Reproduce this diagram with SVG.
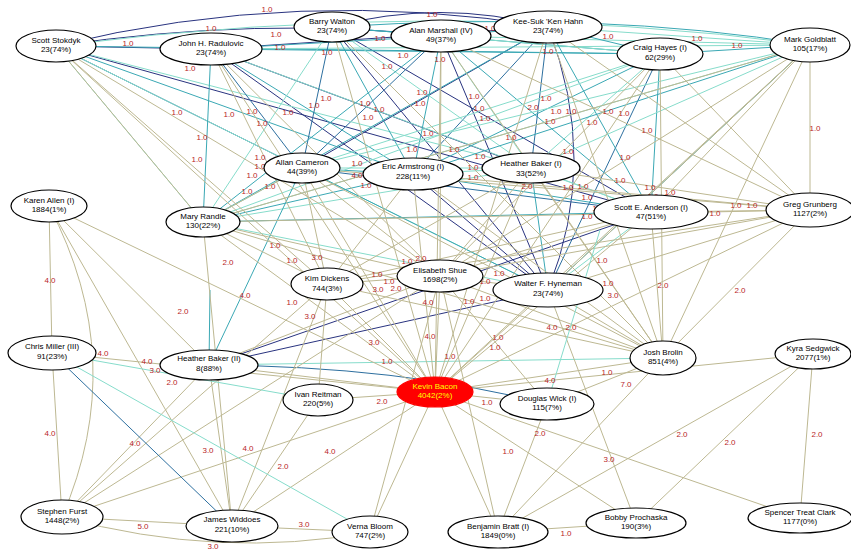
<svg xmlns="http://www.w3.org/2000/svg" width="851" height="550" viewBox="0 0 851 550">
<style>
.n{stroke:#29337f}.b{stroke:#2d6f9f}.t{stroke:#3aa8b4}.a{stroke:#86dccb}.k{stroke:#bdb892}
#edges line,#edges path{fill:none;stroke-width:1}
.node ellipse{fill:#fff;stroke:#000;stroke-width:1.2}
.node text{font-family:"Liberation Sans",Arial,sans-serif;font-size:8px;text-anchor:middle;fill:#000}
#labels text{font-family:"Liberation Sans",Arial,sans-serif;font-size:8px;text-anchor:middle;fill:#b8262a}
</style>
<rect width="851" height="550" fill="#fff"/>
<g id="edges">
<path class="n" d="M56,46 Q300,-14 548,27"/>
<path class="n" d="M56,46 Q260,16 441,36"/>
<line class="n" x1="56" y1="46" x2="211" y2="49"/>
<path class="n" d="M332,27 Q440,-2 548,27"/>
<line class="n" x1="211" y1="49" x2="548" y2="27"/>
<line class="n" x1="211" y1="49" x2="531" y2="168"/>
<line class="n" x1="211" y1="49" x2="548" y2="290"/>
<line class="n" x1="441" y1="36" x2="548" y2="290"/>
<path class="n" d="M548,27 Q600,160 548,290"/>
<line class="n" x1="209" y1="365" x2="548" y2="290"/>
<path class="b" d="M209,365 Q400,366 547,404"/>
<line class="n" x1="56" y1="46" x2="651" y2="212"/>
<line class="b" x1="302" y1="168" x2="651" y2="212"/>
<line class="n" x1="332" y1="27" x2="651" y2="212"/>
<line class="n" x1="413" y1="174" x2="548" y2="290"/>
<line class="b" x1="441" y1="36" x2="302" y2="168"/>
<line class="n" x1="548" y1="27" x2="302" y2="168"/>
<line class="n" x1="332" y1="27" x2="548" y2="290"/>
<line class="b" x1="56" y1="46" x2="302" y2="168"/>
<line class="n" x1="209" y1="365" x2="651" y2="212"/>
<line class="b" x1="548" y1="27" x2="413" y2="174"/>
<line class="b" x1="660" y1="54" x2="548" y2="290"/>
<path class="a" d="M56,46 Q450,-4 810,45"/>
<path class="t" d="M332,27 Q600,10 810,45"/>
<line class="t" x1="56" y1="46" x2="413" y2="174"/>
<line class="a" x1="56" y1="46" x2="531" y2="168"/>
<line class="t" x1="56" y1="46" x2="660" y2="54"/>
<line class="a" x1="56" y1="46" x2="548" y2="290"/>
<line class="t" x1="211" y1="49" x2="441" y2="36"/>
<line class="t" x1="211" y1="49" x2="660" y2="54"/>
<line class="a" x1="211" y1="49" x2="810" y2="45"/>
<line class="b" x1="211" y1="49" x2="302" y2="168"/>
<line class="t" x1="211" y1="49" x2="413" y2="174"/>
<line class="a" x1="211" y1="49" x2="651" y2="212"/>
<line class="t" x1="332" y1="27" x2="441" y2="36"/>
<line class="b" x1="332" y1="27" x2="302" y2="168"/>
<line class="t" x1="332" y1="27" x2="413" y2="174"/>
<line class="a" x1="332" y1="27" x2="531" y2="168"/>
<line class="t" x1="332" y1="27" x2="660" y2="54"/>
<line class="t" x1="441" y1="36" x2="548" y2="27"/>
<line class="a" x1="441" y1="36" x2="660" y2="54"/>
<line class="t" x1="441" y1="36" x2="413" y2="174"/>
<line class="a" x1="441" y1="36" x2="531" y2="168"/>
<line class="t" x1="441" y1="36" x2="651" y2="212"/>
<line class="a" x1="441" y1="36" x2="810" y2="45"/>
<line class="t" x1="548" y1="27" x2="660" y2="54"/>
<line class="a" x1="548" y1="27" x2="810" y2="45"/>
<line class="b" x1="548" y1="27" x2="531" y2="168"/>
<line class="t" x1="548" y1="27" x2="651" y2="212"/>
<line class="t" x1="660" y1="54" x2="810" y2="45"/>
<line class="a" x1="660" y1="54" x2="302" y2="168"/>
<line class="t" x1="660" y1="54" x2="413" y2="174"/>
<line class="a" x1="660" y1="54" x2="531" y2="168"/>
<line class="t" x1="660" y1="54" x2="651" y2="212"/>
<line class="a" x1="810" y1="45" x2="302" y2="168"/>
<line class="t" x1="810" y1="45" x2="413" y2="174"/>
<line class="a" x1="810" y1="45" x2="531" y2="168"/>
<line class="t" x1="810" y1="45" x2="548" y2="290"/>
<line class="t" x1="302" y1="168" x2="413" y2="174"/>
<line class="a" x1="302" y1="168" x2="531" y2="168"/>
<line class="t" x1="302" y1="168" x2="548" y2="290"/>
<line class="a" x1="413" y1="174" x2="531" y2="168"/>
<line class="t" x1="413" y1="174" x2="651" y2="212"/>
<line class="a" x1="531" y1="168" x2="651" y2="212"/>
<line class="t" x1="531" y1="168" x2="548" y2="290"/>
<line class="a" x1="651" y1="212" x2="548" y2="290"/>
<line class="a" x1="203" y1="222" x2="56" y2="46"/>
<line class="t" x1="203" y1="222" x2="211" y2="49"/>
<line class="a" x1="203" y1="222" x2="332" y2="27"/>
<line class="t" x1="203" y1="222" x2="548" y2="27"/>
<line class="a" x1="203" y1="222" x2="660" y2="54"/>
<line class="t" x1="203" y1="222" x2="441" y2="36"/>
<line class="a" x1="203" y1="222" x2="302" y2="168"/>
<line class="t" x1="203" y1="222" x2="413" y2="174"/>
<line class="a" x1="203" y1="222" x2="531" y2="168"/>
<line class="t" x1="203" y1="222" x2="651" y2="212"/>
<line class="a" x1="203" y1="222" x2="548" y2="290"/>
<line class="a" x1="203" y1="222" x2="810" y2="45"/>
<line class="t" x1="209" y1="365" x2="210" y2="290"/>
<line class="t" x1="209" y1="365" x2="302" y2="168"/>
<line class="a" x1="209" y1="365" x2="663" y2="358"/>
<line class="k" x1="435" y1="392" x2="56" y2="46"/>
<line class="k" x1="435" y1="392" x2="211" y2="49"/>
<line class="k" x1="435" y1="392" x2="332" y2="27"/>
<line class="k" x1="435" y1="392" x2="441" y2="36"/>
<line class="k" x1="435" y1="392" x2="548" y2="27"/>
<line class="k" x1="435" y1="392" x2="660" y2="54"/>
<line class="k" x1="435" y1="392" x2="810" y2="45"/>
<line class="k" x1="435" y1="392" x2="302" y2="168"/>
<line class="k" x1="435" y1="392" x2="413" y2="174"/>
<line class="k" x1="435" y1="392" x2="531" y2="168"/>
<line class="k" x1="435" y1="392" x2="651" y2="212"/>
<line class="k" x1="435" y1="392" x2="810" y2="210"/>
<line class="k" x1="435" y1="392" x2="203" y2="222"/>
<line class="k" x1="435" y1="392" x2="49" y2="206"/>
<line class="k" x1="435" y1="392" x2="52" y2="353"/>
<line class="k" x1="435" y1="392" x2="209" y2="365"/>
<line class="k" x1="435" y1="392" x2="327" y2="284"/>
<line class="k" x1="435" y1="392" x2="440" y2="276"/>
<line class="k" x1="435" y1="392" x2="548" y2="290"/>
<line class="k" x1="435" y1="392" x2="663" y2="358"/>
<line class="k" x1="435" y1="392" x2="547" y2="404"/>
<line class="k" x1="435" y1="392" x2="318" y2="400"/>
<line class="k" x1="435" y1="392" x2="370" y2="532"/>
<line class="k" x1="435" y1="392" x2="232" y2="526"/>
<line class="k" x1="435" y1="392" x2="62" y2="517"/>
<line class="k" x1="435" y1="392" x2="498" y2="532"/>
<line class="k" x1="435" y1="392" x2="636" y2="523"/>
<line class="k" x1="435" y1="392" x2="800" y2="518"/>
<line class="k" x1="435" y1="392" x2="813" y2="354"/>
<line class="k" x1="440" y1="276" x2="56" y2="46"/>
<line class="k" x1="440" y1="276" x2="211" y2="49"/>
<line class="k" x1="440" y1="276" x2="441" y2="36"/>
<line class="k" x1="440" y1="276" x2="302" y2="168"/>
<line class="k" x1="440" y1="276" x2="531" y2="168"/>
<line class="k" x1="440" y1="276" x2="660" y2="54"/>
<line class="k" x1="440" y1="276" x2="810" y2="45"/>
<line class="k" x1="440" y1="276" x2="651" y2="212"/>
<line class="k" x1="440" y1="276" x2="810" y2="210"/>
<line class="k" x1="440" y1="276" x2="327" y2="284"/>
<line class="k" x1="440" y1="276" x2="548" y2="290"/>
<line class="k" x1="440" y1="276" x2="663" y2="358"/>
<line class="k" x1="440" y1="276" x2="203" y2="222"/>
<line class="k" x1="440" y1="276" x2="209" y2="365"/>
<line class="k" x1="440" y1="276" x2="62" y2="517"/>
<line class="k" x1="440" y1="276" x2="498" y2="532"/>
<line class="k" x1="440" y1="276" x2="547" y2="404"/>
<line class="k" x1="327" y1="284" x2="302" y2="168"/>
<line class="k" x1="327" y1="284" x2="413" y2="174"/>
<line class="k" x1="327" y1="284" x2="211" y2="49"/>
<line class="k" x1="327" y1="284" x2="203" y2="222"/>
<line class="k" x1="327" y1="284" x2="663" y2="358"/>
<line class="k" x1="327" y1="284" x2="810" y2="210"/>
<line class="k" x1="327" y1="284" x2="531" y2="168"/>
<line class="k" x1="327" y1="284" x2="56" y2="46"/>
<line class="k" x1="327" y1="284" x2="318" y2="400"/>
<line class="k" x1="327" y1="284" x2="651" y2="212"/>
<line class="k" x1="663" y1="358" x2="810" y2="45"/>
<line class="k" x1="663" y1="358" x2="660" y2="54"/>
<line class="k" x1="663" y1="358" x2="810" y2="210"/>
<line class="k" x1="663" y1="358" x2="651" y2="212"/>
<line class="k" x1="663" y1="358" x2="531" y2="168"/>
<line class="k" x1="663" y1="358" x2="441" y2="36"/>
<line class="k" x1="663" y1="358" x2="548" y2="27"/>
<line class="k" x1="663" y1="358" x2="413" y2="174"/>
<line class="k" x1="663" y1="358" x2="302" y2="168"/>
<line class="k" x1="663" y1="358" x2="203" y2="222"/>
<line class="k" x1="663" y1="358" x2="547" y2="404"/>
<line class="k" x1="663" y1="358" x2="332" y2="27"/>
<line class="k" x1="663" y1="358" x2="548" y2="290"/>
<line class="k" x1="810" y1="210" x2="810" y2="45"/>
<line class="k" x1="810" y1="210" x2="660" y2="54"/>
<line class="k" x1="810" y1="210" x2="441" y2="36"/>
<line class="k" x1="810" y1="210" x2="302" y2="168"/>
<line class="k" x1="810" y1="210" x2="413" y2="174"/>
<line class="k" x1="810" y1="210" x2="531" y2="168"/>
<line class="k" x1="810" y1="210" x2="651" y2="212"/>
<line class="k" x1="810" y1="210" x2="548" y2="290"/>
<line class="k" x1="810" y1="210" x2="203" y2="222"/>
<line class="k" x1="810" y1="210" x2="548" y2="27"/>
<line class="k" x1="810" y1="45" x2="651" y2="212"/>
<line class="k" x1="810" y1="45" x2="548" y2="290"/>
<line class="k" x1="810" y1="45" x2="203" y2="222"/>
<line class="k" x1="49" y1="206" x2="52" y2="353"/>
<path class="k" d="M49,206 Q130,360 62,517"/>
<line class="k" x1="49" y1="206" x2="209" y2="365"/>
<line class="k" x1="49" y1="206" x2="232" y2="526"/>
<line class="k" x1="52" y1="353" x2="62" y2="517"/>
<line class="k" x1="62" y1="517" x2="232" y2="526"/>
<line class="k" x1="232" y1="526" x2="370" y2="532"/>
<path class="k" d="M62,517 Q220,560 370,532"/>
<line class="k" x1="498" y1="532" x2="636" y2="523"/>
<line class="k" x1="813" y1="354" x2="498" y2="532"/>
<line class="k" x1="813" y1="354" x2="636" y2="523"/>
<line class="k" x1="813" y1="354" x2="800" y2="518"/>
<line class="k" x1="62" y1="517" x2="209" y2="365"/>
<line class="k" x1="62" y1="517" x2="327" y2="284"/>
<line class="k" x1="232" y1="526" x2="209" y2="365"/>
<line class="k" x1="232" y1="526" x2="318" y2="400"/>
<line class="k" x1="232" y1="526" x2="203" y2="222"/>
<line class="k" x1="232" y1="526" x2="327" y2="284"/>
<line class="k" x1="370" y1="532" x2="440" y2="276"/>
<line class="k" x1="498" y1="532" x2="663" y2="358"/>
<line class="k" x1="636" y1="523" x2="548" y2="290"/>
<line class="k" x1="547" y1="404" x2="498" y2="532"/>
<line class="k" x1="203" y1="222" x2="56" y2="46"/>
<line class="k" x1="203" y1="222" x2="302" y2="168"/>
<line class="a" x1="52" y1="353" x2="318" y2="400"/>
<line class="a" x1="52" y1="353" x2="370" y2="532"/>
<line class="b" x1="52" y1="353" x2="232" y2="526"/>
<line class="a" x1="547" y1="404" x2="600" y2="230"/>
</g>
<g id="labels">
<text x="267" y="12">1.0</text><text x="211" y="31">1.0</text><text x="128" y="46">1.0</text><text x="276" y="37">1.0</text><text x="280" y="50">1.0</text><text x="190" y="71">1.0</text><text x="432" y="17">1.0</text><text x="490" y="31">1.0</text><text x="380" y="41">1.0</text><text x="327" y="55">1.0</text><text x="440" y="62">1.0</text><text x="403" y="58">1.0</text><text x="548" y="54">1.0</text><text x="608" y="39">1.0</text><text x="697" y="41">1.0</text><text x="737" y="48">1.0</text>
<text x="177" y="115">1.0</text><text x="229" y="117">1.0</text><text x="252" y="114">1.0</text><text x="262" y="126">1.0</text><text x="288" y="115">1.0</text><text x="314" y="108">1.0</text><text x="326" y="101">1.0</text><text x="202" y="140">1.0</text><text x="197" y="162">1.0</text><text x="260" y="160">1.0</text><text x="365" y="106">1.0</text><text x="379" y="112">1.0</text><text x="368" y="120">1.0</text><text x="387" y="69">1.0</text><text x="422" y="95">1.0</text><text x="420" y="106">1.0</text><text x="428" y="136">1.0</text><text x="412" y="152">1.0</text><text x="454" y="152">1.0</text><text x="474" y="99">1.0</text><text x="479" y="111">1.0</text><text x="485" y="121">1.0</text><text x="511" y="140">1.0</text><text x="480" y="159">1.0</text><text x="533" y="110">2.0</text><text x="546" y="101">1.0</text><text x="550" y="124">1.0</text><text x="556" y="114">1.0</text><text x="571" y="114">1.0</text><text x="592" y="125">1.0</text><text x="568" y="154">1.0</text>
<text x="608" y="114">1.0</text><text x="624" y="116">1.0</text><text x="647" y="133">1.0</text><text x="625" y="160">1.0</text><text x="620" y="183">1.0</text>
<text x="260" y="169">1.0</text><text x="252" y="178">1.0</text><text x="270" y="189">1.0</text><text x="357" y="166">1.0</text><text x="357" y="178">4.0</text><text x="366" y="188">1.0</text><text x="473" y="170">1.0</text><text x="473" y="180">1.0</text><text x="527" y="189">2.0</text><text x="568" y="190">1.0</text><text x="583" y="189">1.0</text>
<text x="650" y="190">1.0</text><text x="587" y="200">1.0</text><text x="653" y="199">1.0</text><text x="670" y="195">1.0</text><text x="598" y="211">1.0</text><text x="587" y="219">1.0</text><text x="715" y="216">1.0</text><text x="736" y="208">1.0</text><text x="752" y="208">1.0</text><text x="247" y="194">1.0</text>
<text x="292" y="263">1.0</text><text x="317" y="260">3.0</text><text x="407" y="264">1.0</text><text x="421" y="261">2.0</text><text x="377" y="277">1.0</text><text x="389" y="284">1.0</text><text x="357" y="291">1.0</text><text x="378" y="292">3.0</text><text x="396" y="291">2.0</text><text x="499" y="276">1.0</text><text x="485" y="284">1.0</text><text x="499" y="293">1.0</text><text x="485" y="301">1.0</text><text x="469" y="304">1.0</text><text x="428" y="305">4.0</text><text x="602" y="263">1.0</text><text x="608" y="286">1.0</text><text x="613" y="298">3.0</text><text x="292" y="305">1.0</text>
<text x="103" y="356">4.0</text><text x="147" y="364">4.0</text><text x="155" y="373">3.0</text><text x="172" y="385">2.0</text>
<text x="430" y="339">4.0</text><text x="498" y="340">1.0</text><text x="495" y="350">1.0</text><text x="450" y="359">1.0</text><text x="387" y="364">1.0</text><text x="607" y="375">1.0</text><text x="550" y="383">4.0</text><text x="626" y="387">7.0</text><text x="487" y="405">1.0</text><text x="382" y="404">2.0</text>
<text x="143" y="529">5.0</text><text x="304" y="527">3.0</text><text x="213" y="549">3.0</text><text x="566" y="536">1.0</text>
<text x="50" y="283">4.0</text><text x="183" y="314">2.0</text><text x="245" y="298">4.0</text><text x="50" y="436">4.0</text><text x="135" y="446">4.0</text><text x="208" y="453">3.0</text><text x="248" y="451">4.0</text><text x="283" y="469">2.0</text><text x="330" y="454">4.0</text><text x="310" y="319">3.0</text><text x="374" y="345">3.0</text><text x="508" y="454">1.0</text><text x="540" y="436">2.0</text><text x="609" y="462">3.0</text><text x="682" y="437">2.0</text><text x="730" y="445">2.0</text><text x="817" y="437">2.0</text><text x="815" y="131">1.0</text><text x="740" y="293">2.0</text><text x="663" y="288">2.0</text><text x="228" y="265">2.0</text><text x="275" y="248">1.0</text><text x="552" y="330">4.0</text><text x="571" y="330">2.0</text>
</g>
<g id="n-ss" class="node"><ellipse cx="56" cy="46" rx="40" ry="16"/><text x="56" y="43">Scott Stokdyk</text><text x="56" y="52">23(74%)</text></g>
<g id="n-jr" class="node"><ellipse cx="211" cy="49" rx="51" ry="16"/><text x="211" y="46">John H. Radulovic</text><text x="211" y="55">23(74%)</text></g>
<g id="n-bw" class="node"><ellipse cx="332" cy="27" rx="38" ry="15"/><text x="332" y="24">Barry Walton</text><text x="332" y="33">23(74%)</text></g>
<g id="n-am" class="node"><ellipse cx="441" cy="36" rx="50" ry="16"/><text x="441" y="33">Alan Marshall (IV)</text><text x="441" y="42">49(37%)</text></g>
<g id="n-kh" class="node"><ellipse cx="548" cy="27" rx="54" ry="16"/><text x="548" y="24">Kee-Suk 'Ken Hahn</text><text x="548" y="33">23(74%)</text></g>
<g id="n-ch" class="node"><ellipse cx="660" cy="54" rx="43" ry="16"/><text x="660" y="50">Craig Hayes (I)</text><text x="660" y="60">62(29%)</text></g>
<g id="n-mg" class="node"><ellipse cx="810" cy="45" rx="40" ry="17"/><text x="810" y="42">Mark Goldblatt</text><text x="810" y="51">105(17%)</text></g>
<g id="n-ac" class="node"><ellipse cx="302" cy="168" rx="38" ry="15"/><text x="302" y="165">Allan Cameron</text><text x="302" y="174">44(39%)</text></g>
<g id="n-ea" class="node"><ellipse cx="413" cy="174" rx="50" ry="16"/><text x="413" y="169">Eric Armstrong (I)</text><text x="413" y="179">228(11%)</text></g>
<g id="n-hb1" class="node"><ellipse cx="531" cy="168" rx="49" ry="15"/><text x="531" y="166">Heather Baker (I)</text><text x="531" y="176">33(52%)</text></g>
<g id="n-sa" class="node"><ellipse cx="651" cy="212" rx="57" ry="17"/><text x="651" y="210">Scott E. Anderson (I)</text><text x="651" y="219">47(51%)</text></g>
<g id="n-gg" class="node"><ellipse cx="810" cy="210" rx="44" ry="17"/><text x="810" y="207">Greg Grunberg</text><text x="810" y="216">1127(2%)</text></g>
<g id="n-ka" class="node"><ellipse cx="49" cy="206" rx="38" ry="16"/><text x="49" y="203">Karen Allen (I)</text><text x="49" y="212">1884(1%)</text></g>
<g id="n-mr" class="node"><ellipse cx="203" cy="222" rx="37" ry="15"/><text x="203" y="219">Mary Randle</text><text x="203" y="228">130(22%)</text></g>
<g id="n-kd" class="node"><ellipse cx="327" cy="284" rx="36" ry="16"/><text x="327" y="281">Kim Dickens</text><text x="327" y="291">744(3%)</text></g>
<g id="n-es" class="node"><ellipse cx="440" cy="276" rx="43" ry="16"/><text x="440" y="273">Elisabeth Shue</text><text x="440" y="282">1698(2%)</text></g>
<g id="n-wh" class="node"><ellipse cx="548" cy="290" rx="55" ry="17"/><text x="548" y="286">Walter F. Hyneman</text><text x="548" y="296">23(74%)</text></g>
<g id="n-cm" class="node"><ellipse cx="52" cy="353" rx="44" ry="17"/><text x="52" y="349">Chris Miller (III)</text><text x="52" y="359">91(23%)</text></g>
<g id="n-hb2" class="node"><ellipse cx="209" cy="365" rx="49" ry="15"/><text x="209" y="361">Heather Baker (II)</text><text x="209" y="371">8(88%)</text></g>
<g id="n-ir" class="node"><ellipse cx="318" cy="400" rx="35" ry="16"/><text x="318" y="397">Ivan Reitman</text><text x="318" y="406">220(5%)</text></g>
<g id="n-kb" class="node"><ellipse cx="435" cy="392" rx="38" ry="15" style="fill:#f00;stroke:#f00"/><text x="435" y="389" style="fill:#ff0">Kevin Bacon</text><text x="435" y="398" style="fill:#ff0">4042(2%)</text></g>
<g id="n-dw" class="node"><ellipse cx="547" cy="404" rx="47" ry="16"/><text x="547" y="401">Douglas Wick (I)</text><text x="547" y="410">115(7%)</text></g>
<g id="n-jb" class="node"><ellipse cx="663" cy="358" rx="33" ry="17"/><text x="663" y="355">Josh Brolin</text><text x="663" y="364">851(4%)</text></g>
<g id="n-ks" class="node"><ellipse cx="813" cy="354" rx="38" ry="15"/><text x="813" y="351">Kyra Sedgwick</text><text x="813" y="360">2077(1%)</text></g>
<g id="n-sf" class="node"><ellipse cx="62" cy="517" rx="41" ry="17"/><text x="62" y="514">Stephen Furst</text><text x="62" y="523">1448(2%)</text></g>
<g id="n-jw" class="node"><ellipse cx="232" cy="526" rx="46" ry="16"/><text x="232" y="522">James Widdoes</text><text x="232" y="532">221(10%)</text></g>
<g id="n-vb" class="node"><ellipse cx="370" cy="532" rx="38" ry="16"/><text x="370" y="529">Verna Bloom</text><text x="370" y="538">747(2%)</text></g>
<g id="n-bb" class="node"><ellipse cx="498" cy="532" rx="50" ry="16"/><text x="498" y="529">Benjamin Bratt (I)</text><text x="498" y="538">1849(0%)</text></g>
<g id="n-bp" class="node"><ellipse cx="636" cy="523" rx="50" ry="15"/><text x="636" y="520">Bobby Prochaska</text><text x="636" y="529">190(3%)</text></g>
<g id="n-sc" class="node"><ellipse cx="800" cy="518" rx="52" ry="15"/><text x="800" y="515">Spencer Treat Clark</text><text x="800" y="524">1177(0%)</text></g>
</svg>
